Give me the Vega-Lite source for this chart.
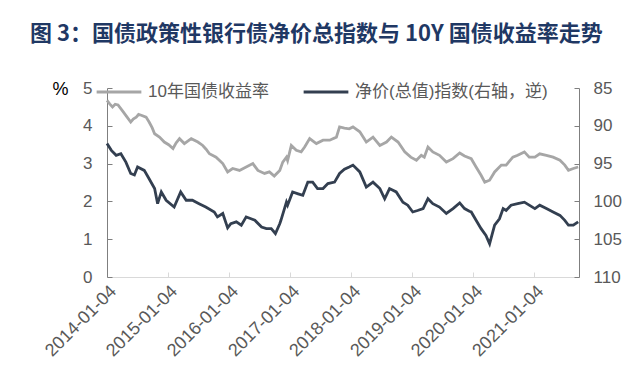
{
  "$schema": "https://vega.github.io/schema/vega-lite/v6.json",
  "autosize": {"type": "none"},
  "width": 472,
  "height": 189,
  "padding": {"left": 107, "top": 88, "right": 61, "bottom": 105},
  "background": "white",
  "config": {
    "view": {"stroke": null},
    "font": "Liberation Sans, Noto Sans CJK SC, sans-serif"
  },
  "title": {
    "text": "图 3：国债政策性银行债净价总指数与 10Y 国债收益率走势",
    "font": "Noto Sans CJK SC",
    "fontSize": 22,
    "fontWeight": "bold",
    "color": "#1F3864",
    "anchor": "start",
    "frame": "group",
    "dx": -77,
    "offset": 22
  },
  "datasets": {
    "yield": [
      {"date": "2014/01/04", "series": "10年国债收益率", "value": 4.67},
      {"date": "2014/01/20", "series": "10年国债收益率", "value": 4.58},
      {"date": "2014/02/06", "series": "10年国债收益率", "value": 4.50},
      {"date": "2014/02/22", "series": "10年国债收益率", "value": 4.57},
      {"date": "2014/03/11", "series": "10年国债收益率", "value": 4.55},
      {"date": "2014/04/09", "series": "10年国债收益率", "value": 4.38},
      {"date": "2014/05/01", "series": "10年国债收益率", "value": 4.25},
      {"date": "2014/05/26", "series": "10年国债收益率", "value": 4.10},
      {"date": "2014/06/10", "series": "10年国债收益率", "value": 4.18},
      {"date": "2014/06/28", "series": "10年国债收益率", "value": 4.23},
      {"date": "2014/07/12", "series": "10年国债收益率", "value": 4.30},
      {"date": "2014/07/28", "series": "10年国债收益率", "value": 4.28},
      {"date": "2014/08/26", "series": "10年国债收益率", "value": 4.23},
      {"date": "2014/09/13", "series": "10年国债收益率", "value": 4.10},
      {"date": "2014/10/01", "series": "10年国债收益率", "value": 3.95},
      {"date": "2014/10/16", "series": "10年国债收益率", "value": 3.79},
      {"date": "2014/11/14", "series": "10年国债收益率", "value": 3.70},
      {"date": "2014/12/13", "series": "10年国债收益率", "value": 3.57},
      {"date": "2015/01/08", "series": "10年国债收益率", "value": 3.50},
      {"date": "2015/02/03", "series": "10年国债收益率", "value": 3.40},
      {"date": "2015/02/22", "series": "10年国债收益率", "value": 3.55},
      {"date": "2015/03/14", "series": "10年国债收益率", "value": 3.66},
      {"date": "2015/04/12", "series": "10年国债收益率", "value": 3.53},
      {"date": "2015/05/23", "series": "10年国债收益率", "value": 3.66},
      {"date": "2015/07/02", "series": "10年国债收益率", "value": 3.57},
      {"date": "2015/07/31", "series": "10年国债收益率", "value": 3.48},
      {"date": "2015/08/20", "series": "10年国债收益率", "value": 3.38},
      {"date": "2015/09/09", "series": "10年国债收益率", "value": 3.26},
      {"date": "2015/10/19", "series": "10年国债收益率", "value": 3.17},
      {"date": "2015/11/28", "series": "10年国债收益率", "value": 3.00},
      {"date": "2015/12/27", "series": "10年国债收益率", "value": 2.78},
      {"date": "2016/01/26", "series": "10年国债收益率", "value": 2.87},
      {"date": "2016/03/07", "series": "10年国债收益率", "value": 2.82},
      {"date": "2016/04/16", "series": "10年国债收益率", "value": 2.91},
      {"date": "2016/05/26", "series": "10年国债收益率", "value": 3.00},
      {"date": "2016/06/25", "series": "10年国债收益率", "value": 2.82},
      {"date": "2016/08/04", "series": "10年国债收益率", "value": 2.74},
      {"date": "2016/09/02", "series": "10年国债收益率", "value": 2.78},
      {"date": "2016/10/01", "series": "10年国债收益率", "value": 2.67},
      {"date": "2016/11/03", "series": "10年国债收益率", "value": 2.82},
      {"date": "2016/11/21", "series": "10年国债收益率", "value": 3.04},
      {"date": "2016/12/13", "series": "10年国债收益率", "value": 3.17},
      {"date": "2016/12/20", "series": "10年国债收益率", "value": 3.08},
      {"date": "2017/01/11", "series": "10年国债收益率", "value": 3.48},
      {"date": "2017/02/10", "series": "10年国债收益率", "value": 3.35},
      {"date": "2017/03/11", "series": "10年国债收益率", "value": 3.31},
      {"date": "2017/04/01", "series": "10年国债收益率", "value": 3.44},
      {"date": "2017/05/01", "series": "10年国债收益率", "value": 3.66},
      {"date": "2017/06/10", "series": "10年国债收益率", "value": 3.53},
      {"date": "2017/07/20", "series": "10年国债收益率", "value": 3.62},
      {"date": "2017/08/29", "series": "10年国债收益率", "value": 3.62},
      {"date": "2017/10/08", "series": "10年国债收益率", "value": 3.70},
      {"date": "2017/10/27", "series": "10年国债收益率", "value": 3.97},
      {"date": "2017/11/25", "series": "10年国债收益率", "value": 3.94},
      {"date": "2017/12/24", "series": "10年国债收益率", "value": 3.92},
      {"date": "2018/01/15", "series": "10年国债收益率", "value": 3.97},
      {"date": "2018/02/25", "series": "10年国债收益率", "value": 3.84},
      {"date": "2018/04/05", "series": "10年国债收益率", "value": 3.57},
      {"date": "2018/05/15", "series": "10年国债收益率", "value": 3.70},
      {"date": "2018/06/25", "series": "10年国债收益率", "value": 3.48},
      {"date": "2018/08/04", "series": "10年国债收益率", "value": 3.57},
      {"date": "2018/09/02", "series": "10年国债收益率", "value": 3.70},
      {"date": "2018/10/12", "series": "10年国债收益率", "value": 3.57},
      {"date": "2018/11/21", "series": "10年国债收益率", "value": 3.31},
      {"date": "2018/12/27", "series": "10年国债收益率", "value": 3.17},
      {"date": "2019/01/30", "series": "10年国债收益率", "value": 3.09},
      {"date": "2019/02/28", "series": "10年国债收益率", "value": 3.22},
      {"date": "2019/03/18", "series": "10年国债收益率", "value": 3.17},
      {"date": "2019/04/09", "series": "10年国债收益率", "value": 3.44},
      {"date": "2019/05/08", "series": "10年国债收益率", "value": 3.31},
      {"date": "2019/06/17", "series": "10年国债收益率", "value": 3.22},
      {"date": "2019/07/28", "series": "10年国债收益率", "value": 3.04},
      {"date": "2019/09/06", "series": "10年国债收益率", "value": 3.13},
      {"date": "2019/10/16", "series": "10年国债收益率", "value": 3.28},
      {"date": "2019/11/14", "series": "10年国债收益率", "value": 3.20},
      {"date": "2019/12/24", "series": "10年国债收益率", "value": 3.13},
      {"date": "2020/01/22", "series": "10年国债收益率", "value": 2.91},
      {"date": "2020/02/21", "series": "10年国债收益率", "value": 2.69},
      {"date": "2020/03/14", "series": "10年国债收益率", "value": 2.51},
      {"date": "2020/04/12", "series": "10年国债收益率", "value": 2.56},
      {"date": "2020/05/12", "series": "10年国债收益率", "value": 2.78},
      {"date": "2020/06/21", "series": "10年国债收益率", "value": 2.96},
      {"date": "2020/07/20", "series": "10年国债收益率", "value": 2.96},
      {"date": "2020/08/29", "series": "10年国债收益率", "value": 3.17},
      {"date": "2020/09/27", "series": "10年国债收益率", "value": 3.22},
      {"date": "2020/11/06", "series": "10年国债收益率", "value": 3.31},
      {"date": "2020/12/05", "series": "10年国债收益率", "value": 3.17},
      {"date": "2021/01/08", "series": "10年国债收益率", "value": 3.17},
      {"date": "2021/02/06", "series": "10年国债收益率", "value": 3.26},
      {"date": "2021/03/18", "series": "10年国债收益率", "value": 3.22},
      {"date": "2021/04/27", "series": "10年国债收益率", "value": 3.17},
      {"date": "2021/06/07", "series": "10年国债收益率", "value": 3.09},
      {"date": "2021/07/06", "series": "10年国债收益率", "value": 2.96},
      {"date": "2021/07/28", "series": "10年国债收益率", "value": 2.82},
      {"date": "2021/08/26", "series": "10年国债收益率", "value": 2.87},
      {"date": "2021/09/24", "series": "10年国债收益率", "value": 2.91}
    ],
    "index": [
      {"date": "2014/01/04", "series": "净价(总值)指数(右轴，逆)", "value": 92.35},
      {"date": "2014/01/30", "series": "净价(总值)指数(右轴，逆)", "value": 93.25},
      {"date": "2014/02/28", "series": "净价(总值)指数(右轴，逆)", "value": 93.9},
      {"date": "2014/03/28", "series": "净价(总值)指数(右轴，逆)", "value": 93.7},
      {"date": "2014/04/27", "series": "净价(总值)指数(右轴，逆)", "value": 94.8},
      {"date": "2014/05/26", "series": "净价(总值)指数(右轴，逆)", "value": 96.3},
      {"date": "2014/06/17", "series": "净价(总值)指数(右轴，逆)", "value": 96.5},
      {"date": "2014/07/06", "series": "净价(总值)指数(右轴，逆)", "value": 95.45},
      {"date": "2014/08/15", "series": "净价(总值)指数(右轴，逆)", "value": 95.9},
      {"date": "2014/09/13", "series": "净价(总值)指数(右轴，逆)", "value": 97.0},
      {"date": "2014/10/16", "series": "净价(总值)指数(右轴，逆)", "value": 98.3},
      {"date": "2014/11/03", "series": "净价(总值)指数(右轴，逆)", "value": 100.3},
      {"date": "2014/11/25", "series": "净价(总值)指数(右轴，逆)", "value": 98.75},
      {"date": "2014/12/24", "series": "净价(总值)指数(右轴，逆)", "value": 99.85},
      {"date": "2015/02/10", "series": "净价(总值)指数(右轴，逆)", "value": 100.75},
      {"date": "2015/03/21", "series": "净价(总值)指数(右轴，逆)", "value": 98.75},
      {"date": "2015/04/23", "series": "净价(总值)指数(右轴，逆)", "value": 99.85},
      {"date": "2015/05/30", "series": "净价(总值)指数(右轴，逆)", "value": 99.85},
      {"date": "2015/07/09", "series": "净价(总值)指数(右轴，逆)", "value": 100.3},
      {"date": "2015/08/18", "series": "净价(总值)指数(右轴，逆)", "value": 100.75},
      {"date": "2015/10/08", "series": "净价(总值)指数(右轴，逆)", "value": 101.4},
      {"date": "2015/10/27", "series": "净价(总值)指数(右轴，逆)", "value": 102.05},
      {"date": "2015/11/28", "series": "净价(总值)指数(右轴，逆)", "value": 101.6},
      {"date": "2015/12/27", "series": "净价(总值)指数(右轴，逆)", "value": 103.5},
      {"date": "2016/01/15", "series": "净价(总值)指数(右轴，逆)", "value": 102.95},
      {"date": "2016/02/17", "series": "净价(总值)指数(右轴，逆)", "value": 102.7},
      {"date": "2016/03/18", "series": "净价(总值)指数(右轴，逆)", "value": 103.15},
      {"date": "2016/04/16", "series": "净价(总值)指数(右轴，逆)", "value": 102.05},
      {"date": "2016/05/15", "series": "净价(总值)指数(右轴，逆)", "value": 102.3},
      {"date": "2016/06/07", "series": "净价(总值)指数(右轴，逆)", "value": 102.5},
      {"date": "2016/07/17", "series": "净价(总值)指数(右轴，逆)", "value": 103.4},
      {"date": "2016/08/15", "series": "净价(总值)指数(右轴，逆)", "value": 103.6},
      {"date": "2016/09/13", "series": "净价(总值)指数(右轴，逆)", "value": 103.6},
      {"date": "2016/10/08", "series": "净价(总值)指数(右轴，逆)", "value": 104.25},
      {"date": "2016/11/03", "series": "净价(总值)指数(右轴，逆)", "value": 102.95},
      {"date": "2016/11/10", "series": "净价(总值)指数(右轴，逆)", "value": 102.5},
      {"date": "2016/12/13", "series": "净价(总值)指数(右轴，逆)", "value": 100.1},
      {"date": "2016/12/20", "series": "净价(总值)指数(右轴，逆)", "value": 100.5},
      {"date": "2017/01/19", "series": "净价(总值)指数(右轴，逆)", "value": 98.75},
      {"date": "2017/02/21", "series": "净价(总值)指数(右轴，逆)", "value": 99.0},
      {"date": "2017/03/21", "series": "净价(总值)指数(右轴，逆)", "value": 99.2},
      {"date": "2017/04/20", "series": "净价(总值)指数(右轴，逆)", "value": 97.45},
      {"date": "2017/05/19", "series": "净价(总值)指数(右轴，逆)", "value": 97.45},
      {"date": "2017/06/17", "series": "净价(总值)指数(右轴，逆)", "value": 98.3},
      {"date": "2017/07/20", "series": "净价(总值)指数(右轴，逆)", "value": 98.3},
      {"date": "2017/08/18", "series": "净价(总值)指数(右轴，逆)", "value": 97.65},
      {"date": "2017/09/27", "series": "净价(总值)指数(右轴，逆)", "value": 97.45},
      {"date": "2017/10/27", "series": "净价(总值)指数(右轴，逆)", "value": 96.3},
      {"date": "2017/11/25", "series": "净价(总值)指数(右轴，逆)", "value": 95.75},
      {"date": "2017/12/24", "series": "净价(总值)指数(右轴，逆)", "value": 95.45},
      {"date": "2018/01/15", "series": "净价(总值)指数(右轴，逆)", "value": 95.2},
      {"date": "2018/02/25", "series": "净价(总值)指数(右轴，逆)", "value": 96.1},
      {"date": "2018/04/05", "series": "净价(总值)指数(右轴，逆)", "value": 98.1},
      {"date": "2018/05/15", "series": "净价(总值)指数(右轴，逆)", "value": 97.45},
      {"date": "2018/06/25", "series": "净价(总值)指数(右轴，逆)", "value": 98.3},
      {"date": "2018/07/24", "series": "净价(总值)指数(右轴，逆)", "value": 99.65},
      {"date": "2018/08/22", "series": "净价(总值)指数(右轴，逆)", "value": 98.3},
      {"date": "2018/10/01", "series": "净价(总值)指数(右轴，逆)", "value": 98.75},
      {"date": "2018/11/10", "series": "净价(总值)指数(右轴，逆)", "value": 100.1},
      {"date": "2018/12/09", "series": "净价(总值)指数(右轴，逆)", "value": 100.5},
      {"date": "2019/01/08", "series": "净价(总值)指数(右轴，逆)", "value": 101.4},
      {"date": "2019/02/06", "series": "净价(总值)指数(右轴，逆)", "value": 101.2},
      {"date": "2019/03/11", "series": "净价(总值)指数(右轴，逆)", "value": 100.95},
      {"date": "2019/04/09", "series": "净价(总值)指数(右轴，逆)", "value": 99.65},
      {"date": "2019/05/08", "series": "净价(总值)指数(右轴，逆)", "value": 100.3},
      {"date": "2019/06/17", "series": "净价(总值)指数(右轴，逆)", "value": 100.75},
      {"date": "2019/07/28", "series": "净价(总值)指数(右轴，逆)", "value": 101.6},
      {"date": "2019/09/06", "series": "净价(总值)指数(右轴，逆)", "value": 100.95},
      {"date": "2019/10/16", "series": "净价(总值)指数(右轴，逆)", "value": 100.2},
      {"date": "2019/11/14", "series": "净价(总值)指数(右轴，逆)", "value": 100.95},
      {"date": "2019/12/13", "series": "净价(总值)指数(右轴，逆)", "value": 101.3},
      {"date": "2019/12/24", "series": "净价(总值)指数(右轴，逆)", "value": 101.4},
      {"date": "2020/01/22", "series": "净价(总值)指数(右轴，逆)", "value": 102.5},
      {"date": "2020/02/21", "series": "净价(总值)指数(右轴，逆)", "value": 103.6},
      {"date": "2020/03/21", "series": "净价(总值)指数(右轴，逆)", "value": 104.5},
      {"date": "2020/04/12", "series": "净价(总值)指数(右轴，逆)", "value": 105.6},
      {"date": "2020/04/23", "series": "净价(总值)指数(右轴，逆)", "value": 104.7},
      {"date": "2020/05/12", "series": "净价(总值)指数(右轴，逆)", "value": 103.15},
      {"date": "2020/06/10", "series": "净价(总值)指数(右轴，逆)", "value": 102.3},
      {"date": "2020/07/02", "series": "净价(总值)指数(右轴，逆)", "value": 100.95},
      {"date": "2020/07/20", "series": "净价(总值)指数(右轴，逆)", "value": 101.2},
      {"date": "2020/08/18", "series": "净价(总值)指数(右轴，逆)", "value": 100.5},
      {"date": "2020/09/27", "series": "净价(总值)指数(右轴，逆)", "value": 100.3},
      {"date": "2020/11/06", "series": "净价(总值)指数(右轴，逆)", "value": 100.1},
      {"date": "2020/12/05", "series": "净价(总值)指数(右轴，逆)", "value": 100.5},
      {"date": "2021/01/08", "series": "净价(总值)指数(右轴，逆)", "value": 100.95},
      {"date": "2021/02/06", "series": "净价(总值)指数(右轴，逆)", "value": 100.5},
      {"date": "2021/03/18", "series": "净价(总值)指数(右轴，逆)", "value": 100.95},
      {"date": "2021/04/27", "series": "净价(总值)指数(右轴，逆)", "value": 101.4},
      {"date": "2021/06/07", "series": "净价(总值)指数(右轴，逆)", "value": 101.85},
      {"date": "2021/07/06", "series": "净价(总值)指数(右轴，逆)", "value": 102.5},
      {"date": "2021/07/28", "series": "净价(总值)指数(右轴，逆)", "value": 103.15},
      {"date": "2021/08/26", "series": "净价(总值)指数(右轴，逆)", "value": 103.15},
      {"date": "2021/09/24", "series": "净价(总值)指数(右轴，逆)", "value": 102.7}
    ]
  },
  "encoding": {
    "x": {
      "field": "date",
      "type": "temporal",
      "scale": {"domain": [{"year": 2014, "month": 1, "date": 4}, {"year": 2021, "month": 9, "date": 29}]},
      "axis": {
        "title": null,
        "values": [
          {"year": 2014, "month": 1, "date": 4},
          {"year": 2015, "month": 1, "date": 4},
          {"year": 2016, "month": 1, "date": 4},
          {"year": 2017, "month": 1, "date": 4},
          {"year": 2018, "month": 1, "date": 4},
          {"year": 2019, "month": 1, "date": 4},
          {"year": 2020, "month": 1, "date": 4},
          {"year": 2021, "month": 1, "date": 4}
        ],
        "format": "%Y-%m-%d",
        "labelAngle": -45,
        "labelFontSize": 18,
        "labelColor": "#595959",
        "labelPadding": 10,
        "labelOverlap": false,
        "labelBound": false,
        "labelFlush": false,
        "domainColor": "#D9D9D9",
        "tickColor": "#D9D9D9",
        "tickSize": -5,
        "grid": false
      }
    },
    "color": {
      "field": "series",
      "type": "nominal",
      "scale": {"domain": ["10年国债收益率", "净价(总值)指数(右轴，逆)"], "range": ["#A6A6A6", "#333F50"]},
      "legend": {
        "title": null,
        "orient": "none",
        "legendX": -12,
        "legendY": -20,
        "direction": "horizontal",
        "symbolType": "stroke",
        "symbolSize": 2000,
        "symbolStrokeWidth": 3,
        "labelFontSize": 17,
        "labelColor": "#595959",
        "labelLimit": 400,
        "labelOffset": 5,
        "columnPadding": 28,
        "padding": 0
      }
    }
  },
  "layer": [
    {
      "data": {"name": "yield"},
      "mark": {"type": "line", "strokeWidth": 2.8},
      "encoding": {
        "y": {
          "field": "value",
          "type": "quantitative",
          "scale": {"domain": [0, 5], "nice": false},
          "axis": {
            "title": "%",
            "titleAngle": 0,
            "titleFontSize": 18,
            "titleFontWeight": "normal",
            "titleColor": "#000000",
            "titleX": -47,
            "titleY": 6,
            "titleAlign": "center",
            "titleBaseline": "alphabetic",
            "values": [0, 1, 2, 3, 4, 5],
            "labelFontSize": 17,
            "labelColor": "#595959",
            "labelPadding": 20,
            "domainColor": "#7F7F7F",
            "tickColor": "#7F7F7F",
            "tickSize": -5,
            "grid": false
          }
        }
      }
    },
    {
      "data": {"name": "index"},
      "mark": {"type": "line", "strokeWidth": 2.8},
      "encoding": {
        "y": {
          "field": "value",
          "type": "quantitative",
          "scale": {"domain": [85, 110], "nice": false, "reverse": true},
          "axis": {
            "title": null,
            "orient": "right",
            "values": [85, 90, 95, 100, 105, 110],
            "labelFontSize": 17,
            "labelColor": "#595959",
            "labelPadding": 19,
            "domainColor": "#7F7F7F",
            "tickColor": "#7F7F7F",
            "tickSize": -5,
            "grid": false
          }
        }
      }
    }
  ],
  "resolve": {"scale": {"y": "independent"}}
}
